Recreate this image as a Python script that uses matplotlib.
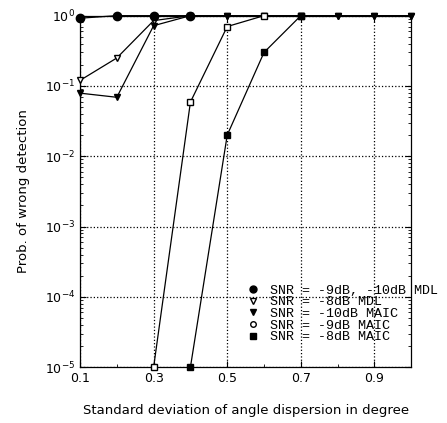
import numpy as np
import matplotlib
matplotlib.use('Agg')
import matplotlib.pyplot as plt
from matplotlib.lines import Line2D

# values
x_all = [0.1, 0.2, 0.3, 0.4, 0.5, 0.6, 0.7, 0.8, 0.9, 1.0]
mdl_9_10 = [0.92, 1.0, 1.0, 1.0]                       # x 0.1 .. 0.4
mdl_8 = [0.12, 0.25, 0.85, 1.0, 1.0, 1.0, 1.0, 1.0, 1.0, 1.0]
maic_10 = [0.079, 0.069, 0.72, 1.0, 1.0, 1.0, 1.0, 1.0, 1.0, 1.0]
x_maic9 = [0.3, 0.4, 0.5, 0.6, 0.7]
maic_9 = [1e-5, 0.059, 0.70, 1.0, 1.0]
x_maic8 = [0.4, 0.5, 0.6, 0.7]
maic_8 = [1e-5, 0.02, 0.30, 1.0]

labels = ['SNR = -9dB, -10dB MDL', 'SNR = -8dB MDL', 'SNR = -10dB MAIC',
          'SNR = -9dB MAIC', 'SNR = -8dB MAIC']

fig = plt.figure(figsize=(4.47, 4.23), dpi=100)
ax = fig.add_axes([0.179, 0.132, 0.741, 0.831])

kw = dict(color='k', lw=0.9, clip_on=False)
ax.plot(x_all, mdl_8, marker='v', ms=5, mfc='white', mec='k', zorder=3, **kw)
ax.plot(x_all, maic_10, marker='v', ms=5, mfc='k', mec='k', zorder=4, **kw)
ax.plot(x_all[:4], mdl_9_10, marker='o', ms=6, mfc='k', mec='k', zorder=5, **kw)
ax.plot(x_maic9, maic_9, marker='s', ms=4.5, mfc='white', mec='k', zorder=5, **kw)
ax.plot(x_maic8, maic_8, marker='s', ms=4.5, mfc='k', mec='k', zorder=6, **kw)

ax.set_yscale('log')
ax.set_xlim(0.1, 1.0)
ax.set_ylim(1e-5, 1)
ax.set_xticks([0.1, 0.3, 0.5, 0.7, 0.9])
ax.set_xticklabels(['0.1', '0.3', '0.5', '0.7', '0.9'])
ax.set_xticks([0.2, 0.4, 0.6, 0.8], minor=True)
ax.grid(True, which='major', ls=':', color='k', lw=0.9)
ax.tick_params(which='both', direction='in', top=True, right=True, labelsize=9)
ax.tick_params(which='major', length=4)
ax.tick_params(which='minor', length=2.5)
for s in ax.spines.values():
    s.set_linewidth(0.9)

ax.set_xlabel('Standard deviation of angle dispersion in degree', fontsize=9.5, labelpad=14)
ax.set_ylabel('Prob. of wrong detection', fontsize=9.5, labelpad=11)

handles = [
    Line2D([], [], ls='none', marker='o', ms=5, mfc='k', mec='k'),
    Line2D([], [], ls='none', marker='v', ms=4.5, mfc='white', mec='k'),
    Line2D([], [], ls='none', marker='v', ms=4.5, mfc='k', mec='k'),
    Line2D([], [], ls='none', marker='o', ms=4, mfc='white', mec='k'),
    Line2D([], [], ls='none', marker='s', ms=4, mfc='k', mec='k'),
]
leg = ax.legend(handles, labels, loc='upper left', bbox_to_anchor=(0.505, 0.236),
                frameon=False, prop={'family': 'Liberation Mono', 'size': 9.6},
                handlelength=0.8, handletextpad=0.9, labelspacing=-0.05,
                borderpad=0, borderaxespad=0)
leg.set_zorder(10)

fig.savefig('out.png', dpi=100)
